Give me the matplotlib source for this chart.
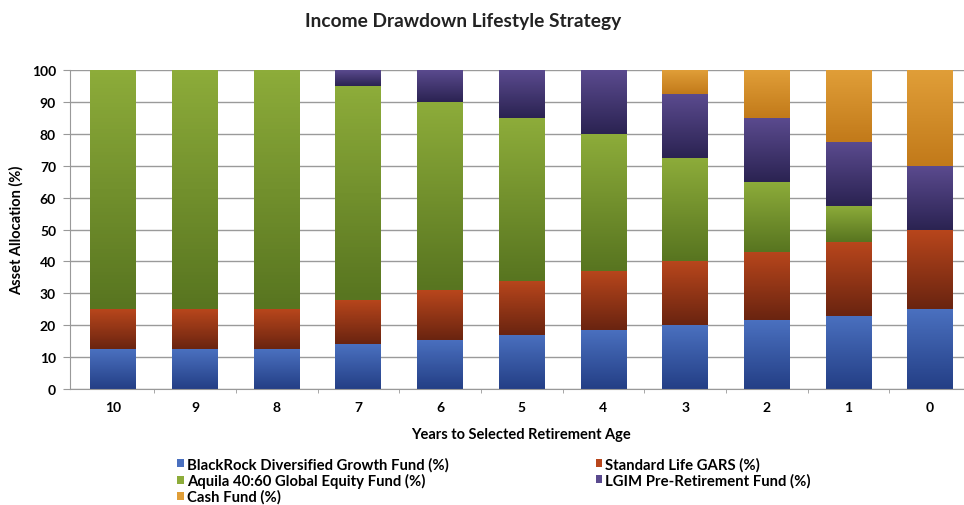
import numpy as np
import matplotlib.pyplot as plt
from matplotlib.colors import LinearSegmentedColormap

plt.rcParams['font.family'] = ['Lato', 'DejaVu Sans']
plt.rcParams['font.weight'] = 'bold'

years = ['10', '9', '8', '7', '6', '5', '4', '3', '2', '1', '0']
blackrock = [12.5, 12.5, 12.5, 14, 15.5, 17, 18.5, 20, 21.5, 23, 25]
gars = [12.5, 12.5, 12.5, 14, 15.5, 17, 18.5, 20, 21.5, 23, 25]
aquila = [75, 75, 75, 67, 59, 51, 43, 32.5, 22, 11.5, 0]
lgim = [0, 0, 0, 5, 10, 15, 20, 20, 20, 20, 20]
cash = [0, 0, 0, 0, 0, 0, 0, 7.5, 15, 22.5, 30]

series = [
    ('BlackRock Diversified Growth Fund (%)', blackrock, '#243f86', '#4a70bf'),
    ('Standard Life GARS (%)', gars, '#6a2410', '#b8461c'),
    ('Aquila 40:60 Global Equity Fund (%)', aquila, '#587520', '#8dac3a'),
    ('LGIM Pre-Retirement Fund (%)', lgim, '#2b2352', '#5a4a8e'),
    ('Cash Fund (%)', cash, '#c27a1a', '#e09e38'),
]

fig = plt.figure(figsize=(9.64, 5.06), dpi=100)
ax = fig.add_axes([70 / 964, 1 - 390 / 506, (971 - 70) / 964, (390 - 71) / 506])

x = np.arange(len(years))
bottom = np.zeros(len(years))
grad = np.linspace(0, 1, 64).reshape(-1, 1)
for name, vals, dark, light in series:
    vals = np.array(vals, dtype=float)
    bars = ax.bar(x, vals, 0.56, bottom=bottom, color=light, label=name, zorder=2)
    cmap = LinearSegmentedColormap.from_list(name, [dark, light])
    for b in bars:
        if b.get_height() <= 0:
            continue
        x0, y0 = b.get_x(), b.get_y()
        im = ax.imshow(grad, cmap=cmap, aspect='auto', origin='lower',
                       extent=(x0, x0 + b.get_width(), y0, y0 + b.get_height()),
                       zorder=2.5)
        im.set_clip_path(b)
    bottom += vals

ax.set_xlim(-0.53, 10.5)
ax.set_ylim(0, 100)
ax.set_yticks(range(0, 101, 10))
ax.set_xticks(x)
ax.set_xticklabels(years)
ax.set_xticks(np.arange(0.5, 10.5, 1), minor=True)
ax.tick_params(axis='x', which='major', length=0, pad=9, labelsize=10)
ax.tick_params(axis='x', which='minor', length=3, color='#999999')
ax.tick_params(axis='y', length=5, color='#999999', labelsize=10, pad=5)
ax.yaxis.grid(True, color='#9a9a9a', linewidth=1.0, zorder=0)
ax.set_axisbelow(True)
for s in ['top', 'right']:
    ax.spines[s].set_visible(False)
for s in ['left', 'bottom']:
    ax.spines[s].set_color('#999999')

ax.set_xlabel('Years to Selected Retirement Age', fontsize=10.5, fontweight='bold', labelpad=10)
ax.set_ylabel('Asset Allocation (%)', fontsize=10.5, fontweight='bold', labelpad=6)
fig.text(463 / 964, 1 - 21 / 506, 'Income Drawdown Lifestyle Strategy', ha='center', va='center',
         fontsize=13.8, fontweight='bold', color='#222222')

# legend fills row by row in the reference
handles, labels = ax.get_legend_handles_labels()
order = [0, 2, 4, 1, 3]
fig.legend([handles[i] for i in order], [labels[i] for i in order], ncol=2,
           loc='upper left', bbox_to_anchor=(177 / 964, 1 - 458 / 506),
           frameon=False, fontsize=10.7, handlelength=0.45, handleheight=0.45,
           handletextpad=0.2, labelspacing=0.1, columnspacing=9.9, borderpad=0,
           borderaxespad=0)

fig.savefig('out.png', dpi=100)
